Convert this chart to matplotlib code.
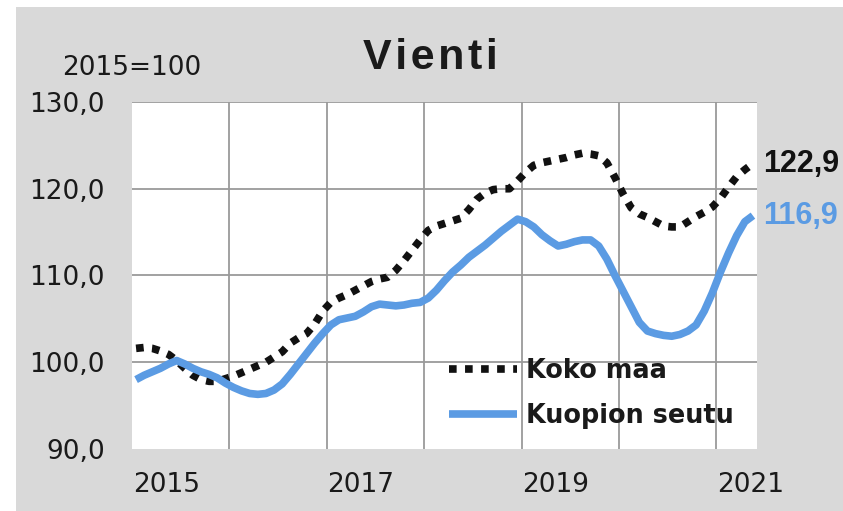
import numpy as np
from matplotlib import pyplot as plt
from matplotlib import patches as mpatches

# monthly index values, 2015 jan .. 2021 may (2015=100)
koko_maa = [101.6, 101.7, 101.6, 101.3, 100.9, 100.2, 99.3, 98.5, 98.0, 97.8,
            97.8, 98.1, 98.4, 98.8, 99.2, 99.6, 100.0, 100.6, 101.2, 102.2,
            102.8, 103.3, 104.4, 105.9, 106.9, 107.4, 107.8, 108.3, 108.8, 109.3,
            109.6, 109.8, 110.6, 111.7, 112.9, 114.1, 115.2, 115.7, 116.0, 116.3,
            116.6, 117.6, 118.8, 119.5, 119.9, 120.0, 120.0, 120.9, 121.9, 122.7,
            123.0, 123.2, 123.4, 123.6, 123.9, 124.1, 124.0, 123.8, 123.0, 121.3,
            119.4, 117.8, 117.1, 116.7, 116.2, 115.7, 115.6, 115.6, 116.2, 116.8,
            117.3, 117.9, 118.9, 120.2, 121.4, 122.2, 122.9]
kuopion_seutu = [98.0, 98.5, 98.9, 99.3, 99.8, 100.2, 99.8, 99.3, 98.9, 98.6,
                 98.2, 97.6, 97.1, 96.7, 96.4, 96.3, 96.4, 96.8, 97.5, 98.6,
                 99.8, 101.0, 102.2, 103.3, 104.3, 104.9, 105.1, 105.3, 105.8, 106.4,
                 106.7, 106.6, 106.5, 106.6, 106.8, 106.9, 107.4, 108.3, 109.4, 110.4,
                 111.2, 112.1, 112.8, 113.5, 114.3, 115.1, 115.8, 116.5, 116.2, 115.6,
                 114.7, 114.0, 113.4, 113.6, 113.9, 114.1, 114.1, 113.4, 111.9, 110.0,
                 108.2, 106.4, 104.6, 103.6, 103.3, 103.1, 103.0, 103.2, 103.6, 104.3,
                 105.9, 108.0, 110.4, 112.6, 114.6, 116.2, 116.9]
year_labels = ['2015', '2017', '2019', '2021']
y_ticks = [90, 100, 110, 120, 130]

blue = '#5b9be3'
grid = '#9a9a9a'
txt = '#1a1a1a'


def fi(v):
    # finnish decimal comma
    return ('%.1f' % v).replace('.', ',')


n = len(koko_maa)
x = np.arange(n) + 0.5

fig = plt.figure(figsize=(8.43, 5.11), dpi=100)
fig.patch.set_facecolor('white')
# gray chart panel
fig.patches.append(mpatches.Rectangle((16/843, 0), 1, 1 - 7/511, transform=fig.transFigure,
                                      facecolor='#d9d9d9', edgecolor='none', zorder=-10))

ax = fig.add_axes([132/843, 1 - 449/511, 625/843, 347/511])
ax.set_facecolor('white')
ax.set_xlim(0, n)
ax.set_ylim(90, 130)
for s in ax.spines.values():
    s.set_visible(False)

# grid: horizontal at ticks, vertical every year
for v in y_ticks[1:]:
    ax.axhline(v, color=grid, lw=1.3, zorder=1)
for m in range(12, n, 12):
    ax.axvline(m, color=grid, lw=1.3, zorder=1)

ax.set_yticks(y_ticks)
ax.set_yticklabels([fi(v) for v in y_ticks])
ax.tick_params(axis='y', length=0, pad=19.5, labelsize=19, labelcolor=txt)
ax.set_xticks([])

for i, lab in enumerate(year_labels):
    ax.text(i * 24 + 0.1, -0.104, lab, transform=ax.get_xaxis_transform(), ha='left', va='center',
            fontsize=19, color=txt)

l1, = ax.plot(x, koko_maa, color='#111111', lw=5.5, dashes=(1, 1.1), dash_capstyle='butt',
              solid_capstyle='butt', label='Koko maa', zorder=3)
l2, = ax.plot(x, kuopion_seutu, color=blue, lw=5.5, solid_capstyle='butt', label='Kuopion seutu', zorder=3)

# end value labels
ax.annotate(fi(koko_maa[-1]), (x[-1], koko_maa[-1]), xytext=(7, 0),
            textcoords='offset points', va='center', ha='left', fontsize=22, fontweight='bold',
            family=['Liberation Sans', 'DejaVu Sans'], color='#111111', annotation_clip=False)
ax.annotate(fi(kuopion_seutu[-1]), (x[-1], kuopion_seutu[-1]), xytext=(7, 0),
            textcoords='offset points', va='center', ha='left', fontsize=22, fontweight='bold',
            family=['Liberation Sans', 'DejaVu Sans'], color=blue, annotation_clip=False)

leg = ax.legend(handles=[l1, l2], loc='upper left', bbox_to_anchor=(0.507, 0.262), frameon=False,
                borderpad=0, borderaxespad=0, handlelength=2.65, handletextpad=0.35,
                labelspacing=0.75, prop={'size': 18.4, 'weight': 'bold'})
for t in leg.get_texts():
    t.set_color(txt)

# title and base year note
fig.text(430/843, 1 - 69/511, '\u200a'.join('Vienti'), ha='center', va='baseline', fontsize=31,
         fontweight='bold', family=['Liberation Sans', 'DejaVu Sans'], color=txt)
fig.text(62/843, 1 - 68/511, '2015=100', ha='left', va='center', fontsize=19, color=txt)

fig.savefig('out.png', dpi=100)
